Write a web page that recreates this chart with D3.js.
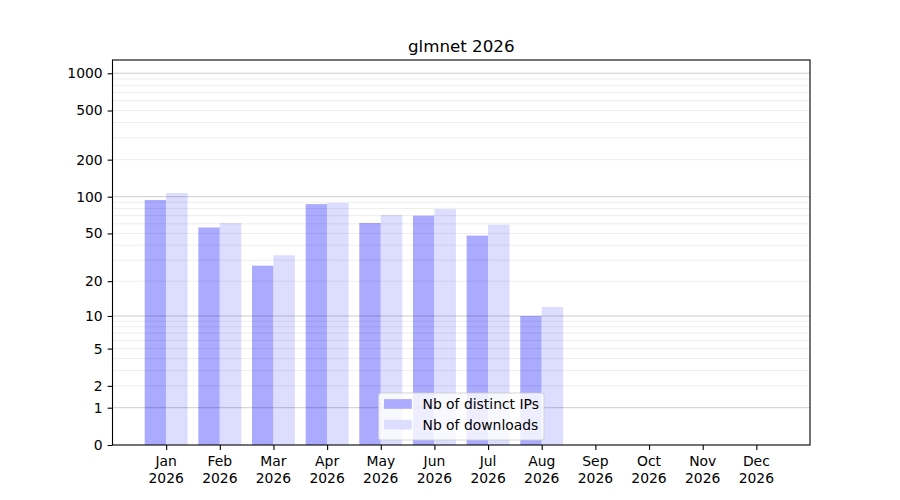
<!DOCTYPE html>
<html>
<head>
<meta charset="utf-8">
<script src="https://cdn.jsdelivr.net/npm/d3@7"></script>
<style>
body{margin:0;background:#fff;}
text{font-family:"DejaVu Sans",sans-serif;fill:#000;}
</style>
</head>
<body>
<svg id="chart" width="900" height="500"></svg>
<script>
const months = ["Jan","Feb","Mar","Apr","May","Jun","Jul","Aug","Sep","Oct","Nov","Dec"];
const year = "2026";
const distinctIPs = [94, 56, 27, 87, 61, 70, 48, 10, null, null, null, null];
const downloads = [107, 61, 33, 89, 71, 79, 59, 12, null, null, null, null];
const yTicks = [0, 1, 2, 5, 10, 20, 50, 100, 200, 500, 1000];
const majorGrid = [1, 10, 100, 1000];
const minorGrid = [2,3,4,5,6,7,8,9,20,30,40,50,60,70,80,90,200,300,400,500,600,700,800,900];
const title = "glmnet 2026";
const seriesNames = ["Nb of distinct IPs", "Nb of downloads"];

const L = 112.5, R = 810, T = 60, B = 445;
const svg = d3.select("#chart");

const x = d3.scaleLinear().domain([-1, 12]).range([L, R]);
const y = d3.scaleSymlog().constant(1).domain([0, 1280]).range([B, T]);
const bw = 0.4;

// bars
const g = svg.append("g");
g.selectAll("rect.ip").data(distinctIPs.map((v,i)=>({v,i})).filter(d=>d.v!=null))
  .enter().append("rect")
  .attr("x", d => x(d.i - bw))
  .attr("width", d => x(d.i) - x(d.i - bw))
  .attr("y", d => y(d.v))
  .attr("height", d => B - y(d.v))
  .attr("fill", "#aaaaff");
g.selectAll("rect.dl").data(downloads.map((v,i)=>({v,i})).filter(d=>d.v!=null))
  .enter().append("rect")
  .attr("x", d => x(d.i))
  .attr("width", d => x(d.i + bw) - x(d.i))
  .attr("y", d => y(d.v))
  .attr("height", d => B - y(d.v))
  .attr("fill", "#ddddff");

// grid on top
svg.append("g").selectAll("line").data(minorGrid).enter().append("line")
  .attr("x1", L).attr("x2", R)
  .attr("y1", d => y(d)).attr("y2", d => y(d))
  .attr("stroke", "#000").attr("stroke-opacity", 0.07).attr("stroke-width", 1);
svg.append("g").selectAll("line").data(majorGrid).enter().append("line")
  .attr("x1", L).attr("x2", R)
  .attr("y1", d => y(d)).attr("y2", d => y(d))
  .attr("stroke", "#000").attr("stroke-opacity", 0.2).attr("stroke-width", 1);

// axes
const yAxis = d3.axisLeft(y).tickValues(yTicks).tickFormat(d3.format("d")).tickSize(4.9).tickPadding(4.9);
const ya = svg.append("g").attr("transform", `translate(${L},0)`).call(yAxis);
ya.select(".domain").remove();
ya.selectAll("text").style("font-size", "13.9px").style("font-family", "DejaVu Sans");
ya.selectAll("line").attr("stroke-width", 1.1);

const xAxis = d3.axisBottom(x).tickValues(d3.range(12)).tickFormat("").tickSize(4.9);
const xa = svg.append("g").attr("transform", `translate(0,${B})`).call(xAxis);
xa.select(".domain").remove();
xa.selectAll("line").attr("stroke-width", 1.1);
const xl = svg.append("g");
months.forEach((m, i) => {
  const t = xl.append("text").attr("x", x(i)).attr("y", 466).attr("text-anchor", "middle").style("font-size", "13.9px");
  t.append("tspan").attr("x", x(i)).text(m);
  t.append("tspan").attr("x", x(i)).attr("dy", 16.5).text(year);
});

// frame
svg.append("rect").attr("x", L).attr("y", T).attr("width", R - L).attr("height", B - T)
  .attr("fill", "none").attr("stroke", "#000").attr("stroke-width", 1.1);

// title
svg.append("text").attr("x", (L + R) / 2).attr("y", 52.4).attr("text-anchor", "middle")
  .style("font-size", "16.7px").text(title);

// legend
const lg = svg.append("g");
lg.append("rect").attr("x", 378.5).attr("y", 393).attr("width", 165.5).attr("height", 47)
  .attr("rx", 2.8).attr("fill", "#fff").attr("fill-opacity", 0.8)
  .attr("stroke", "#cccccc").attr("stroke-opacity", 0.8).attr("stroke-width", 1);
const colors = ["#aaaaff", "#ddddff"];
seriesNames.forEach((n, k) => {
  const cy = 404 + k * 20.7;
  lg.append("rect").attr("x", 384).attr("y", cy - 4.9).attr("width", 27.8).attr("height", 9.7).attr("fill", colors[k]);
  lg.append("text").attr("x", 422.5).attr("y", cy).attr("dy", "0.36em").style("font-size", "13.9px").text(n);
});
</script>
</body>
</html>
